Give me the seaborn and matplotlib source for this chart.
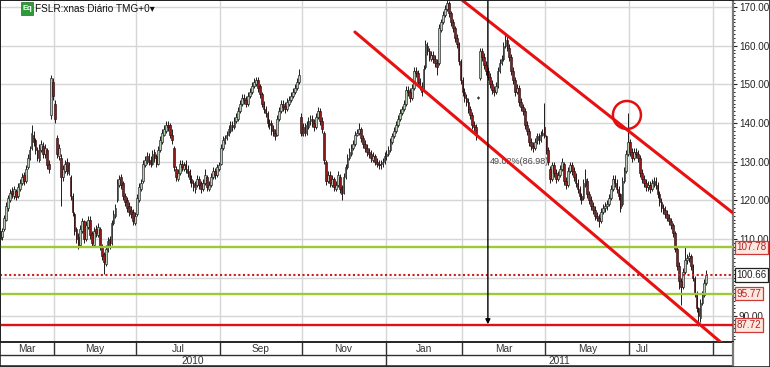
import numpy as np
import matplotlib
matplotlib.use("Agg")
import matplotlib.pyplot as plt
import seaborn as sns
from matplotlib.patches import Rectangle, Ellipse
from matplotlib.ticker import MultipleLocator, FuncFormatter

# ---------------- data (daily bars, FSLR Mar-2010 .. Aug-2011) ----------------
opens = [
    112.0,110.5,112.5,115.0,118.0,120.0,122.5,121.0,122.5,121.0,
    123.0,124.5,126.5,125.0,128.5,131.0,133.5,137.0,135.5,133.0,
    130.5,133.0,134.0,132.0,133.0,129.5,142.0,150.5,145.0,136.0,
    131.5,131.0,126.0,127.5,130.0,127.0,126.0,121.0,116.5,112.5,
    110.5,108.5,112.0,114.5,110.0,113.0,115.0,111.5,108.5,112.5,
    111.0,112.5,108.0,106.0,103.5,107.0,110.0,109.0,114.0,116.0,
    120.0,124.0,126.0,124.5,121.0,120.0,118.5,117.5,117.0,114.0,
    116.5,120.0,123.0,125.0,129.0,130.0,131.5,130.5,129.5,132.5,
    131.5,129.5,133.0,135.0,137.0,138.0,139.5,139.5,137.0,133.5,
    128.0,125.5,127.0,129.5,128.0,129.5,128.0,127.5,125.5,124.5,
    123.0,124.0,125.5,124.5,123.0,124.5,126.0,123.0,124.0,126.0,
    127.5,126.5,128.0,129.5,133.5,135.0,136.0,137.0,138.0,139.5,
    139.0,140.5,141.0,143.0,145.0,146.5,146.0,145.0,147.0,148.0,
    149.5,150.0,151.0,149.5,147.5,145.0,143.5,142.5,140.0,140.0,
    138.5,137.5,137.0,141.0,143.0,145.0,144.5,143.5,145.0,146.0,
    147.0,148.0,149.0,150.5,141.5,137.0,139.0,137.5,139.0,140.5,
    141.0,140.0,139.0,141.5,143.0,140.5,137.5,130.0,125.0,126.5,
    124.0,125.5,123.0,124.0,126.0,123.5,122.0,126.0,128.5,131.0,
    132.0,133.5,134.5,137.0,137.5,138.5,136.0,134.5,133.5,132.5,
    132.0,130.5,131.5,130.0,129.5,129.0,129.5,130.0,131.5,132.0,
    133.0,135.0,136.5,138.0,139.5,141.0,142.5,143.5,145.0,148.5,
    148.0,146.5,149.0,153.5,153.0,150.5,149.5,148.5,154.5,160.0,
    158.5,156.5,157.5,156.5,155.5,155.5,164.0,166.0,168.0,169.5,
    171.0,168.5,166.0,164.5,162.0,160.5,156.0,151.0,148.0,146.5,
    145.5,143.5,142.0,139.5,139.0,146.5,151.5,158.5,157.0,155.0,
    153.5,152.0,150.0,148.5,148.0,149.5,153.5,155.5,156.5,160.0,
    161.5,159.5,157.0,153.5,151.0,148.0,149.0,145.5,144.0,143.0,
    139.5,138.0,135.0,134.0,133.5,135.0,136.5,135.5,137.0,139.0,
    136.5,133.0,128.0,125.5,129.0,127.0,125.5,126.5,128.0,129.5,
    125.0,124.0,127.5,129.0,127.5,126.0,124.5,123.0,121.0,120.5,
    124.0,125.0,121.5,120.0,118.5,117.5,116.0,115.5,114.5,117.0,
    118.0,118.5,119.0,120.5,123.0,125.5,124.5,123.0,121.5,119.0,
    125.0,127.5,132.0,135.0,132.5,131.0,132.5,132.0,131.0,127.0,
    125.5,124.5,123.5,124.0,123.0,124.5,125.0,124.0,121.5,119.5,
    118.0,117.5,116.5,115.5,114.5,113.5,111.5,107.5,103.0,99.0,
    97.5,101.5,104.5,105.0,105.5,103.0,100.0,96.0,92.0,89.5,
    93.5,95.5,98.5,
]
closes = [
    110.0,112.0,115.5,118.5,120.5,122.0,121.5,122.8,120.8,123.5,
    124.5,126.0,125.0,128.0,131.0,133.0,137.5,135.0,133.0,131.0,
    133.5,134.5,132.0,133.5,129.0,128.0,151.5,147.0,141.0,132.0,
    133.5,126.0,128.0,129.5,127.5,129.0,121.0,117.0,112.0,110.0,
    108.5,112.5,114.5,110.0,113.5,115.0,111.0,109.0,112.0,111.5,
    113.0,108.0,105.5,104.0,107.5,109.5,108.5,114.0,116.5,118.0,
    124.5,125.5,124.0,121.0,119.5,118.0,117.0,116.5,114.5,116.0,
    120.5,123.5,124.5,129.5,130.5,131.5,130.0,129.5,132.0,131.0,
    129.5,133.0,135.5,137.5,138.5,139.5,139.0,137.0,135.5,128.5,
    126.0,127.0,129.5,128.5,129.0,128.0,127.0,125.5,124.5,123.5,
    124.0,125.5,124.0,123.0,124.5,126.5,123.5,124.0,126.0,127.5,
    126.5,128.5,129.0,133.5,135.5,136.0,137.0,138.5,139.5,139.0,
    140.5,141.5,143.0,145.0,146.5,146.0,145.0,147.0,148.0,149.5,
    150.5,151.0,149.0,147.5,145.0,143.5,142.5,140.0,139.5,138.0,
    137.5,136.5,141.0,143.0,145.0,144.0,143.5,145.5,146.0,147.0,
    148.0,149.0,150.5,152.5,137.5,139.0,137.5,139.5,140.5,141.0,
    140.0,139.0,141.5,143.0,140.5,138.5,130.5,125.0,126.5,124.5,
    125.5,123.5,124.0,126.5,123.0,121.5,126.0,128.5,131.0,132.5,
    133.5,134.5,137.0,137.5,138.5,136.0,134.5,133.5,132.5,132.0,
    131.0,131.5,130.0,129.5,129.0,129.5,130.0,131.5,132.0,133.0,
    135.0,136.5,138.0,139.5,141.0,142.5,143.5,145.0,148.5,148.0,
    146.5,149.0,153.5,153.0,150.5,149.5,148.0,154.0,160.5,158.5,
    157.0,157.5,156.5,155.5,154.5,164.5,166.0,168.0,169.5,171.0,
    168.5,166.0,164.5,162.0,160.5,156.0,151.0,148.0,146.5,145.5,
    143.5,142.0,139.5,139.0,137.0,146.8,158.5,157.0,155.0,153.5,
    152.0,150.0,148.5,148.0,149.5,153.5,155.5,156.5,160.0,161.5,
    159.5,157.0,153.5,151.0,148.0,149.0,145.5,144.0,143.0,139.5,
    138.0,135.0,134.0,133.5,135.0,136.5,135.5,137.0,137.5,136.5,
    133.0,130.0,125.5,129.0,127.0,125.5,126.5,128.0,130.0,125.0,
    124.0,127.5,129.0,127.5,126.0,124.5,123.0,121.0,120.0,124.5,
    125.5,121.5,120.0,118.5,117.5,116.0,115.5,114.5,117.0,118.0,
    118.5,119.0,120.5,123.0,125.5,124.5,123.0,121.0,118.0,125.0,
    127.5,132.0,135.0,132.5,131.0,132.5,132.0,131.0,127.0,125.5,
    124.5,123.5,124.0,123.0,124.5,125.0,124.0,121.5,119.5,118.0,
    117.5,116.5,115.5,114.5,113.5,111.5,107.5,103.0,99.0,97.5,
    101.5,104.5,105.0,105.5,103.0,100.0,96.0,92.0,90.0,93.5,
    95.5,98.5,100.66,
]
highs = [
    113.0,112.8,116.3,119.5,121.3,123.0,123.5,123.6,123.0,124.5,
    125.5,127.0,127.2,129.0,132.0,134.0,139.5,138.0,136.0,133.8,
    134.5,135.5,135.0,134.5,133.5,130.5,152.5,151.5,146.0,137.0,
    134.5,132.0,129.0,130.5,130.8,130.0,126.5,121.8,117.0,113.0,
    111.5,113.5,115.5,115.0,114.5,116.0,115.8,112.0,113.0,113.5,
    114.0,113.0,108.8,106.5,108.5,110.5,110.8,115.0,117.5,119.0,
    125.5,126.5,126.8,125.0,122.0,120.8,119.5,118.5,117.8,117.0,
    121.5,124.5,125.5,130.5,131.5,132.5,132.3,131.5,133.0,133.3,
    132.0,134.0,136.5,138.5,139.5,140.5,140.5,140.0,138.5,134.0,
    128.8,128.0,130.5,130.5,130.0,130.3,129.0,128.0,126.5,125.3,
    125.0,126.5,126.3,125.0,125.5,128.0,126.5,125.0,127.0,128.5,
    128.3,129.5,130.0,134.5,136.5,137.0,138.0,139.5,140.5,140.5,
    141.5,142.5,144.0,146.0,147.5,147.5,147.0,148.0,149.0,150.5,
    151.5,152.0,151.8,150.0,148.0,145.8,144.5,143.0,141.0,140.8,
    139.5,138.5,142.0,144.0,146.0,146.0,145.5,146.5,147.0,148.0,
    149.0,150.0,151.5,154.0,142.5,140.0,140.0,140.5,141.5,142.0,
    142.0,141.0,142.5,144.0,143.8,141.5,138.0,130.5,127.5,127.5,
    126.5,126.0,125.0,127.5,126.8,124.0,127.0,129.5,132.0,133.5,
    134.5,135.5,138.0,138.5,140.0,139.0,137.0,135.5,134.5,133.5,
    133.0,132.5,132.0,131.0,130.5,130.5,131.0,132.5,133.0,134.0,
    136.0,137.5,139.0,140.5,142.0,143.5,144.5,146.0,149.5,149.5,
    149.0,150.0,154.5,154.5,153.8,151.5,150.5,155.0,161.5,161.0,
    159.5,158.5,158.5,157.5,156.5,165.5,167.0,169.0,170.5,171.8,
    171.5,169.0,167.0,165.0,163.0,161.0,156.5,151.8,149.0,147.5,
    146.5,144.5,142.8,140.5,139.8,147.0,159.5,159.5,158.0,156.0,
    154.5,153.0,151.0,149.5,150.5,154.5,156.5,157.5,161.0,163.0,
    162.5,160.5,157.8,154.5,151.8,150.0,149.8,146.5,145.0,143.8,
    140.5,138.8,136.0,135.0,136.0,137.5,137.5,138.0,138.5,145.2,
    137.0,133.8,128.8,130.0,130.0,128.0,127.5,129.0,131.0,130.0,
    126.0,128.5,130.0,130.0,128.5,127.0,125.5,123.8,122.0,125.5,
    128.0,125.8,122.5,121.0,119.5,118.5,117.0,116.5,118.0,119.0,
    119.5,120.0,121.5,124.0,126.5,126.5,125.5,123.8,122.0,126.0,
    128.5,133.0,142.6,135.8,133.5,133.5,133.5,133.0,131.8,128.0,
    126.5,125.5,125.0,125.0,125.5,126.0,126.0,124.8,122.5,120.5,
    119.0,118.5,117.5,116.5,115.5,114.0,112.0,108.0,104.0,100.0,
    102.5,108.0,106.0,106.5,106.0,103.5,100.5,96.5,92.5,94.5,
    96.5,99.5,102.0,
]
lows = [
    109.0,109.8,112.0,114.5,117.2,119.5,120.5,120.2,120.0,120.5,
    122.5,124.0,124.0,124.5,128.0,130.5,133.0,134.0,132.0,130.2,
    130.0,132.5,131.0,131.0,128.0,127.0,141.0,146.0,140.0,131.0,
    130.5,118.5,125.0,127.0,126.5,126.5,120.0,116.0,111.0,109.0,
    107.5,108.0,111.5,109.0,109.5,112.5,110.0,108.0,108.0,110.5,
    110.5,107.0,104.5,101.0,103.0,106.5,107.5,108.5,113.5,115.5,
    119.5,123.5,123.0,120.0,118.5,117.0,116.0,115.5,113.5,113.5,
    116.0,119.5,122.5,124.5,128.5,129.5,129.0,128.5,129.0,130.0,
    128.5,129.0,132.5,134.5,136.5,137.5,138.0,136.0,134.5,127.5,
    125.0,125.0,126.5,127.5,127.5,127.0,126.0,124.5,123.5,122.5,
    122.0,123.5,123.0,122.0,122.5,124.0,122.5,122.5,123.5,125.5,
    125.5,126.0,127.5,129.0,133.0,134.5,135.5,136.5,137.5,138.0,
    138.5,140.0,140.5,142.5,144.5,145.0,144.0,144.5,146.5,147.5,
    149.0,149.5,148.0,146.5,144.0,142.5,141.5,139.0,138.5,137.0,
    136.5,135.5,136.5,140.5,142.5,143.0,142.5,143.0,144.5,145.5,
    146.5,147.5,148.5,150.0,136.5,136.5,136.5,137.0,138.5,139.5,
    139.0,138.0,138.5,141.0,139.5,137.5,129.5,124.0,124.5,123.5,
    123.5,122.5,122.5,123.5,122.0,120.0,121.5,125.5,128.0,130.5,
    131.5,133.0,134.0,136.5,137.0,135.0,133.5,132.5,131.5,131.0,
    130.0,130.0,129.0,128.5,128.0,128.0,128.5,129.5,130.5,131.5,
    132.5,134.5,136.0,137.5,139.0,140.5,142.0,143.0,144.5,147.0,
    145.5,146.0,148.5,152.0,149.5,148.5,147.0,148.0,154.0,157.5,
    156.0,156.0,155.5,154.5,152.5,155.0,163.5,165.5,167.5,169.0,
    167.5,165.0,163.5,161.0,159.5,155.0,150.0,147.0,145.5,144.5,
    142.5,141.0,138.5,138.0,135.5,146.3,151.0,156.0,154.0,152.5,
    151.0,149.0,147.5,147.0,147.5,149.0,153.0,155.0,156.0,159.5,
    158.5,156.0,152.5,150.0,147.0,147.5,144.5,143.0,142.0,138.5,
    137.0,134.0,133.0,132.5,133.0,134.5,134.5,135.0,136.5,136.0,
    132.0,129.0,124.5,125.0,126.0,124.5,125.0,126.0,127.5,124.0,
    123.0,123.5,127.0,126.5,125.0,123.5,122.0,120.0,119.0,120.0,
    123.5,120.5,119.0,117.5,116.5,115.0,114.5,113.0,114.0,116.5,
    117.0,117.5,118.5,120.0,122.5,123.5,122.0,120.0,117.0,118.5,
    124.5,127.0,131.5,131.5,130.0,130.5,131.0,130.0,126.0,124.5,
    123.5,122.5,122.5,122.0,122.5,123.5,123.0,120.5,118.5,117.0,
    116.5,115.5,114.5,113.5,112.5,110.5,106.5,102.0,97.0,93.0,
    97.0,101.0,103.5,104.0,102.0,99.0,95.0,91.0,87.5,88.5,
    93.0,95.0,98.0,
]

# first bar index of every labelled month, and labels
month_starts = [28, 70, 113, 155, 198, 237, 280, 323, 366]
month_labels = ["Mar", "May", "Jul", "Sep", "Nov", "Jan", "Mar", "May", "Jul"]
year_start = 198
year_labels = ["2010", "2011"]

green_levels = [107.78, 95.77]
red_level = 87.72
last_price = 100.66
price_ticks = [90, 100, 110, 120, 130, 140, 150, 160, 170]

upper_channel_x = [236.7, 375.7]
upper_channel_y = [171.81, 116.7]
lower_channel_x = [181.8, 372.6]
lower_channel_y = [163.53, 81.9]

marker_bar = 250
marker_text = "49.02%(86.98)"
marker_text_price = 129.9
circle_bar = 321.3
circle_price = 142.06

title_text = "FSLR:xnas Diário TMG+0\u25BE"

# ---------------- figure ----------------
sns.set_style("white")
plt.rcParams["font.family"] = ["Liberation Sans", "DejaVu Sans"]

W, H = 770, 367
PR, PB = 733, 342          # plot right edge / plot bottom (pixels)
fig = plt.figure(figsize=(W / 100, H / 100), dpi=100)
ax = fig.add_axes([0, (H - PB) / H, PR / W, PB / H])
band = fig.add_axes([0, 0, PR / W, (H - PB) / H])

n = min(len(opens), len(closes), len(highs), len(lows))
idx = np.arange(n)
o = np.array(opens[:n]); c = np.array(closes[:n])
h = np.array(highs[:n]); l = np.array(lows[:n])
up = c >= o

XL, XR = -0.2, 375.7
YB, YT = 83.32, 171.81
ax.set_xlim(XL, XR)
ax.set_ylim(YB, YT)

seps = [m - 0.5 for m in month_starts]

# grid
ax.set_xticks(seps)
ax.set_yticks(price_ticks)
ax.grid(True, color="#d6d6d6", lw=1.0, zorder=0)
ax.set_axisbelow(True)

# candles
ax.vlines(idx, l, h, color="#1c1c1c", lw=0.7, zorder=3)
ax.bar(idx[up], np.maximum((c - o)[up], 0.15), bottom=o[up], width=0.88,
       color="#b9cdb7", edgecolor="#1c1c1c", linewidth=0.45, zorder=4)
ax.bar(idx[~up], np.maximum((o - c)[~up], 0.15), bottom=c[~up], width=0.88,
       color="#8e1b1b", edgecolor="#2a1010", linewidth=0.45, zorder=4)

# horizontal levels
for v in green_levels:
    ax.axhline(v, color="#9cc935", lw=1.7, zorder=5)
ax.axhline(red_level, color="#e01018", lw=1.7, zorder=5)
ax.axhline(last_price, color="#d01c1c", lw=1.5, ls=(0, (1.0, 1.2)), zorder=5)

# channel lines
sns.lineplot(x=upper_channel_x, y=upper_channel_y, ax=ax, color="#e81010",
             lw=2.2, zorder=6, legend=False)
sns.lineplot(x=lower_channel_x, y=lower_channel_y, ax=ax, color="#e81010",
             lw=2.2, zorder=6, legend=False)

# vertical marker with arrow
ax.annotate("", xy=(marker_bar, red_level + 0.2), xytext=(marker_bar, YT + 1),
            arrowprops=dict(arrowstyle="-|>", color="black", lw=1.0,
                            mutation_scale=7, shrinkA=0, shrinkB=0),
            zorder=7, annotation_clip=False)
ax.text(marker_bar + 1, marker_text_price, marker_text, fontsize=6.5,
        color="#4a4a4a", ha="left", va="center", zorder=5)

# circle
ax.add_patch(Ellipse((circle_bar, circle_price), width=28 / 1.95, height=28 / 3.865,
                     fill=False, ec="#e01010", lw=1.8, zorder=7))

# right axis
ax.yaxis.tick_right()
ax.yaxis.set_major_formatter(FuncFormatter(lambda v, p: "" if abs(v - 100) < 1e-6 else f"{v:.2f}"))
ax.yaxis.set_minor_locator(MultipleLocator(1))
ax.tick_params(axis="y", which="major", labelsize=7.1, length=3, width=0.8,
               colors="#222222", pad=1.2)
ax.tick_params(axis="y", which="minor", length=1.6, width=0.7, colors="#222222")
ax.tick_params(axis="x", length=0, labelbottom=False)
for s in ["left", "top", "bottom"]:
    ax.spines[s].set_color("black")
    ax.spines[s].set_linewidth(1.2)
ax.spines["right"].set_color("#7a7a7a")
ax.spines["right"].set_linewidth(1.6)

def level_box(v, fc, ec, tc):
    ax.text(1.005, v, f"{v:.2f}", transform=ax.get_yaxis_transform(),
            ha="left", va="center", fontsize=7.1, color=tc, clip_on=False,
            zorder=10, bbox=dict(boxstyle="square,pad=0.16", fc=fc, ec=ec, lw=0.9))

level_box(green_levels[0], "#fde8e0", "#d03838", "#b02020")
level_box(last_price, "white", "#202020", "#202020")
level_box(green_levels[1], "#fde8e0", "#d03838", "#b02020")
level_box(red_level, "#fde8e0", "#d03838", "#b02020")

# ---------------- date band ----------------
band.set_xlim(XL, XR)
band.set_ylim(0, 25)
band.axis("off")
band.axhline(12.5, color="#303030", lw=1.0)
band.axhline(0.6, color="#303030", lw=1.2)
for s in seps:
    band.vlines(s, 12.5, 25, color="#303030", lw=1.0)
band.vlines(year_start - 0.5, 0, 12.5, color="#303030", lw=1.0)
band.vlines(XR, 0, 25, color="#7a7a7a", lw=1.6, clip_on=False)

edges = [XL] + seps
for k, lab in enumerate(month_labels):
    if k < len(month_labels) - 1:
        band.text((edges[k] + edges[k + 1]) / 2, 18.5, lab, ha="center",
                  va="center", fontsize=7.3, color="#333333")
    else:
        band.text(edges[k] + 3.2, 18.5, lab, ha="left", va="center",
                  fontsize=7.3, color="#333333")
ys = [XL, year_start - 0.5, XR]
for k, lab in enumerate(year_labels):
    band.text((ys[k] + ys[k + 1]) / 2, 6.3, lab, ha="center", va="center",
              fontsize=7.3, color="#333333")

# ---------------- header ----------------
fig.add_artist(Rectangle((21 / W, 1 - 15 / H), 12 / W, 13 / H, transform=fig.transFigure,
                         fc="#2f9a3c", ec="#1e6e28", lw=0.5))
fig.text(27 / W, 1 - 8.5 / H, "Eq", color="white", fontsize=5.5, fontweight="bold",
         ha="center", va="center")
fig.text(35 / W, 1 - 8.5 / H, title_text, fontsize=7.2, ha="left", va="center",
         color="#111111")

fig.add_artist(Rectangle((0, 0), 1, 1, transform=fig.transFigure, fill=False,
                         ec="#222222", lw=1.2))

fig.savefig("out.png", dpi=100)
